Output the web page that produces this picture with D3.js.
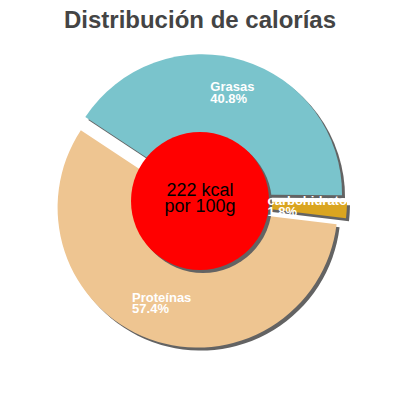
<html>
<head>
<meta charset="utf-8">
<script src="https://d3js.org/d3.v7.min.js"></script>
<style>
  body { margin: 0; background: #fff; }
  text { font-family: "Liberation Sans", Arial, sans-serif; }
</style>
</head>
<body>
<div id="chart"></div>
<script>
// data
var categories = ["Grasas", "carbohidratos", "Proteínas"];
var percents = [40.8, 1.8, 57.4];
var colors = ["#7ac4cc", "#daa520", "#eec591"];
var kcal = 222;
var title = "Distribución de calorías";

var w = 400, h = 400;
var cx = 200, cy = 201;   // centre of the pie
var R = 140;              // outer radius
var hole = 69;            // red disc
var explode = 7;
var start = -56.5 * Math.PI / 180;

var svg = d3.select("#chart").append("svg").attr("width", w).attr("height", h);

svg.append("text").attr("x", w / 2).attr("y", 28).attr("text-anchor", "middle")
  .attr("font-size", 24).attr("font-weight", "bold").attr("fill", "#444").text(title);

var data = categories.map(function (c, i) { return { name: c, value: percents[i], color: colors[i] }; });

var pie = d3.pie().sort(null).value(function (d) { return d.value; })
  .startAngle(start).endAngle(start + 2 * Math.PI);
var arcs = pie(data);

var arc = d3.arc().innerRadius(0).outerRadius(R);
var labelArc = d3.arc().innerRadius(68).outerRadius(R);

function offset(d) {
  var a = (d.startAngle + d.endAngle) / 2;
  return [explode * Math.sin(a), -explode * Math.cos(a)];
}

var g = svg.append("g").attr("transform", "translate(" + cx + "," + cy + ")");

// shadows first
g.selectAll(".shadow").data(arcs).enter().append("path")
  .attr("class", "shadow")
  .attr("d", arc)
  .attr("fill", "#636363")
  .attr("transform", function (d) { var o = offset(d); return "translate(" + (o[0] + 3) + "," + (o[1] + 3) + ")"; });

g.selectAll(".slice").data(arcs).enter().append("path")
  .attr("class", "slice")
  .attr("d", arc)
  .attr("fill", function (d) { return d.data.color; })
  .attr("transform", function (d) { var o = offset(d); return "translate(" + o[0] + "," + o[1] + ")"; });

// centre disc
g.append("circle").attr("cx", 3).attr("cy", 3).attr("r", hole).attr("fill", "#636363");
g.append("circle").attr("r", hole).attr("fill", "#ff0000");
g.append("text").attr("text-anchor", "middle").attr("y", -5).attr("font-size", 18).attr("fill", "#000").text(kcal + " kcal");
g.append("text").attr("text-anchor", "middle").attr("y", 11).attr("font-size", 18).attr("fill", "#000").text("por 100g");

// labels, block centred on the centroid, left aligned text
svg.append("clipPath").attr("id", "lclip").append("rect").attr("x", 0).attr("y", 0).attr("width", 348).attr("height", h);
var lg = svg.append("g").attr("clip-path", "url(#lclip)")
  .append("g").attr("transform", "translate(" + cx + "," + cy + ")");

arcs.forEach(function (d) {
  var c = labelArc.centroid(d), o = offset(d);
  var t = lg.append("text").attr("font-size", 13).attr("font-weight", "bold").attr("fill", "#fff");
  var l1 = t.append("tspan").text(d.data.name);
  var l2 = t.append("tspan").text(d.data.value.toFixed(1) + "%");
  var bw = Math.max(l1.node().getComputedTextLength(), l2.node().getComputedTextLength());
  var x0 = c[0] + o[0] - bw / 2;
  var y0 = c[1] + o[1] - 3.5;
  l1.attr("x", x0).attr("y", y0);
  l2.attr("x", x0).attr("y", y0 + 11.5);
});
</script>
</body>
</html>
